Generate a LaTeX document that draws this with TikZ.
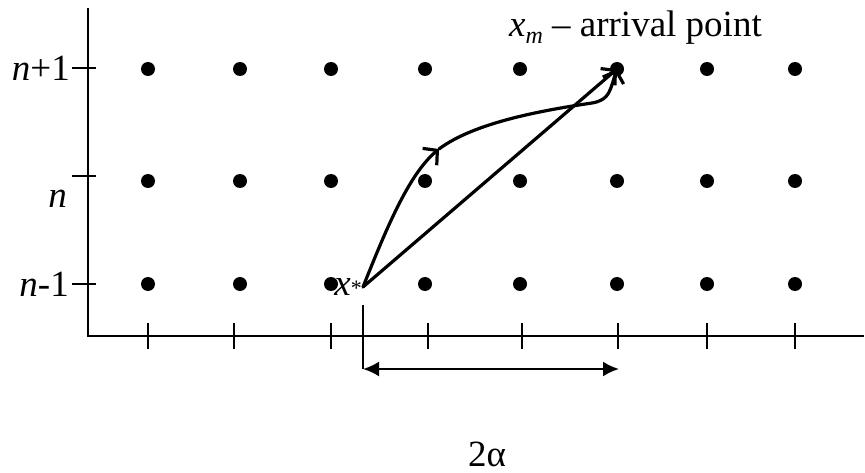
\documentclass[tikz,border=0pt]{standalone}
\usepackage{fontspec}
\setmainfont{Liberation Serif}
\usetikzlibrary{arrows.meta}
\begin{document}
\begin{tikzpicture}[x=1pt,y=-1pt,
  dot/.style={circle,fill=black,inner sep=0pt,minimum size=14pt},
  axis/.style={line width=2.2pt},
  tickmark/.style={line width=2.2pt},
  barb/.style={line width=3.2pt,line cap=round,-{Straight Barb[length=10pt,width=22pt,line width=3.2pt]}},
  dim/.style={line width=2.2pt,{Latex[length=16pt,width=15pt]}-{Latex[length=16pt,width=15pt]}},
  lbl/.style={font=\fontsize{37}{40}\selectfont,inner sep=0pt},
]
\useasboundingbox (0,0) rectangle (865,473);
% axes
\coordinate (origin) at (88,336);
\coordinate (ytop) at (88,8);
\coordinate (xend) at (864,336);
\draw[axis] (ytop) -- (origin) -- (xend);
% y ticks and labels
\foreach \y/\r in {68/t,176/m,284/b} {
  \coordinate (yl\r) at (72,\y);
  \coordinate (yr\r) at (96,\y);
  \draw[tickmark] (yl\r) -- (yr\r);
}
\node[lbl,anchor=east] (lt) at (70,68) {\textit{n}+1};
\node[lbl,anchor=east] (lm) at (67,199) {\textit{n}};
\node[lbl,anchor=east] (lb) at (69,284) {\textit{n}-1};
% x ticks
\foreach \x [count=\i] in {148,234,331,428,522,618,707,795} {
  \coordinate (xa\i) at (\x,323);
  \coordinate (xb\i) at (\x,349);
  \draw[tickmark] (xa\i) -- (xb\i);
}
% dots
\foreach \x [count=\i] in {148,240,331,425,520,617,707,795} {
  \foreach \y/\r in {69/t,181/m,284/b} {
    \node[dot] (d\r\i) at (\x,\y) {};
  }
}
% start point
\coordinate (xs) at (363,287);
\node[lbl,anchor=east] (xslabel) at (362,287) {\textit{x}\raisebox{-0.02em}{\fontsize{22}{22}\selectfont *}};
\coordinate (mid) at (439,149);
\coordinate (bend) at (592,103);
% arrows
\draw[barb] (xs) -- (dt6.center);
\draw[barb] (xs) .. controls (385,232) and (408,175) .. (mid);
\draw[barb] (mid) .. controls (475,122) and (545,110) .. (bend) .. controls (610,100) and (610,90) .. (dt6.center);
% arrival label
\node[lbl,anchor=base west] (arr) at (509,37) {\textit{x}\raisebox{-0.18em}{\fontsize{24}{24}\selectfont\textit{m}} – arrival point};
% dimension
\coordinate (vt) at (363,305);
\coordinate (dl) at (363,369);
\coordinate (dr) at (619,369);
\draw[tickmark] (vt) -- (dl);
\draw[dim] (dl) -- (dr);
\node[lbl] (alpha) at (487,454) {2α};
\end{tikzpicture}
\end{document}
